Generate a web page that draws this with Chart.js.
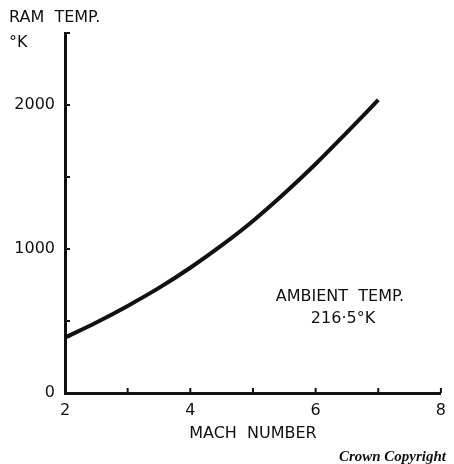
<!DOCTYPE html>
<html>
<head>
<meta charset="utf-8">
<script src="https://cdn.jsdelivr.net/npm/chart.js@4.4.1/dist/chart.umd.min.js"></script>
<style>
  html, body { margin: 0; padding: 0; background: #fff; }
  #wrap { position: relative; width: 454px; height: 464px; }
</style>
</head>
<body>
<div id="wrap"><canvas id="chart" width="454" height="464"></canvas></div>
<script>
// Ram temperature against Mach number (ambient 216.5 K)
const machNumbers = [2, 2.5, 3, 3.5, 4, 4.5, 5, 5.5, 6, 6.5, 7];
const ramTemps = [385, 490, 605, 730, 870, 1025, 1195, 1385, 1590, 1810, 2035];
const xTicks = [2, 3, 4, 5, 6, 7, 8];
const xLabelled = [2, 4, 6, 8];
const yTicks = [0, 500, 1000, 1500, 2000, 2500];
const yLabelled = [0, 1000, 2000];

const FONT = "DejaVu Sans";
const INK = "#111";

// short inward ticks plus the loose text on the sheet
const sheetPlugin = {
  id: "sheet",
  afterDraw(chart) {
    const ctx = chart.ctx;
    const x = chart.scales.x;
    const y = chart.scales.y;
    const left = chart.chartArea.left;
    const bottom = chart.chartArea.bottom;
    ctx.save();
    ctx.strokeStyle = INK;
    ctx.lineWidth = 2;
    yTicks.forEach((v) => {
      if (v === 0) return;
      const py = y.getPixelForValue(v);
      ctx.beginPath();
      ctx.moveTo(left, py);
      ctx.lineTo(left + 5, py);
      ctx.stroke();
    });
    xTicks.forEach((v) => {
      if (v === 2) return;
      const px = x.getPixelForValue(v);
      ctx.beginPath();
      ctx.moveTo(px, bottom);
      ctx.lineTo(px, bottom - 5);
      ctx.stroke();
    });

    ctx.fillStyle = INK;
    ctx.textBaseline = "middle";
    ctx.font = "16px '" + FONT + "'";
    ctx.textAlign = "left";
    ctx.fillText("RAM  TEMP.", 9, 18);
    ctx.fillText("°K", 9, 43);

    ctx.textAlign = "center";
    ctx.fillText("AMBIENT  TEMP.", 340, 297);
    ctx.fillText("216·5°K", 343, 319);

    ctx.font = "bold italic 15px 'Liberation Serif'";
    ctx.textAlign = "right";
    ctx.fillText("Crown Copyright", 446, 457);
    ctx.restore();
  },
};

new Chart(document.getElementById("chart"), {
  type: "line",
  data: {
    labels: machNumbers,
    datasets: [
      {
        data: machNumbers.map((m, i) => ({ x: m, y: ramTemps[i] })),
        borderColor: INK,
        borderWidth: 4,
        pointRadius: 0,
        cubicInterpolationMode: "monotone",
        fill: false,
      },
    ],
  },
  options: {
    responsive: false,
    animation: false,
    layout: { padding: { left: 0, top: 33, right: 12, bottom: 21 } },
    plugins: { legend: { display: false }, tooltip: { enabled: false } },
    scales: {
      x: {
        type: "linear",
        min: 2,
        max: 8,
        afterBuildTicks: (s) => { s.ticks = xTicks.map((v) => ({ value: v })); },
        afterFit: (s) => { s.height = 50; },
        grid: { display: false, drawTicks: false },
        border: { display: true, color: INK, width: 3 },
        ticks: {
          padding: 8,
          color: INK,
          font: { family: FONT, size: 16 },
          maxRotation: 0,
          autoSkip: false,
          callback: (v) => (xLabelled.includes(v) ? String(v) : ""),
        },
        title: {
          display: true,
          text: "MACH  NUMBER",
          color: INK,
          font: { family: FONT, size: 16 },
          padding: { top: 4, bottom: 0 },
        },
      },
      y: {
        min: 0,
        max: 2500,
        afterBuildTicks: (s) => { s.ticks = yTicks.map((v) => ({ value: v })); },
        afterFit: (s) => { s.width = 65; },
        grid: { display: false, drawTicks: false },
        border: { display: true, color: INK, width: 3 },
        ticks: {
          padding: 10,
          color: INK,
          font: { family: FONT, size: 16 },
          autoSkip: false,
          callback: (v) => (yLabelled.includes(v) ? String(v) : ""),
        },
      },
    },
  },
  plugins: [sheetPlugin],
});
</script>
</body>
</html>
